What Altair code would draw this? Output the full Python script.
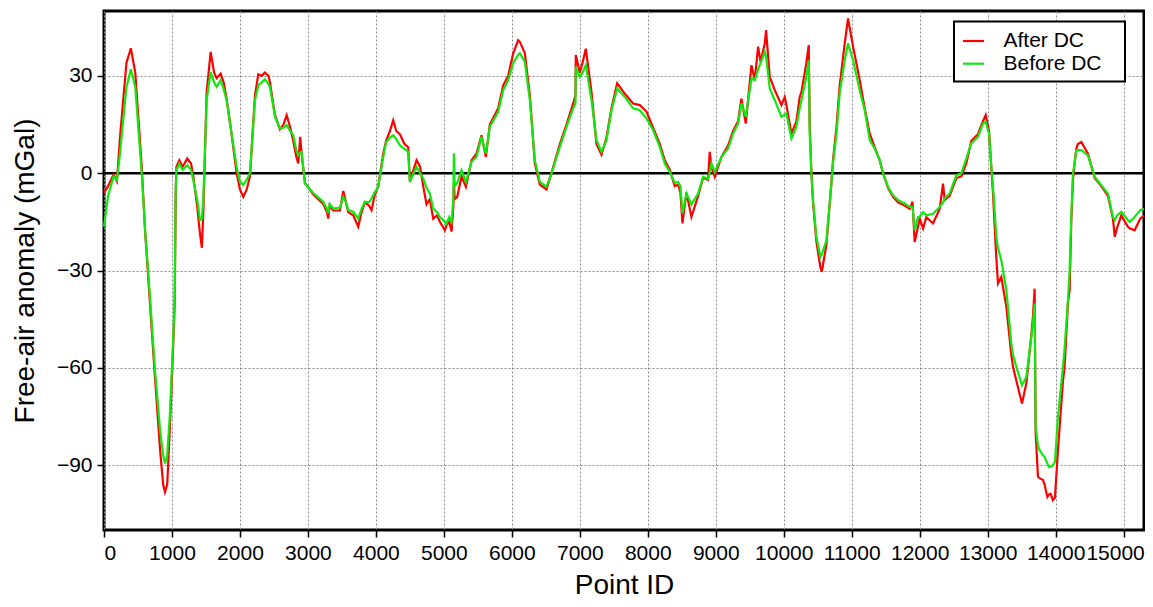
import altair as alt
import pandas as pd

POINT_ID = [0, 60, 140, 190, 235, 330, 395, 460, 555, 605, 676, 750, 824, 870, 897, 930, 970, 1020, 1040, 1055,
            1065, 1108, 1157, 1225, 1280, 1314, 1370, 1412, 1440, 1461, 1510, 1569, 1620, 1657, 1716, 1760, 1804,
            1877, 1951, 2000, 2049, 2100, 2147, 2221, 2270, 2320, 2368, 2420, 2441, 2515, 2588, 2640, 2687, 2740,
            2784, 2830, 2858, 2887, 2907, 2956, 3078, 3225, 3280, 3299, 3320, 3373, 3471, 3520, 3560, 3593, 3667,
            3740, 3790, 3838, 3900, 3936, 3980, 4034, 4108, 4150, 4206, 4255, 4300, 4353, 4420, 4475, 4500, 4598,
            4650, 4696, 4745, 4794, 4843, 4900, 4941, 5015, 5039, 5080, 5113, 5140, 5147, 5160, 5196, 5260, 5324,
            5407, 5480, 5554, 5618, 5676, 5799, 5872, 5946, 6019, 6093, 6118, 6191, 6265, 6338, 6412, 6510, 6583,
            6706, 6804, 6902, 6936, 6941, 7000, 7040, 7088, 7172, 7245, 7319, 7392, 7466, 7549, 7662, 7784, 7882,
            7980, 8078, 8176, 8250, 8324, 8397, 8446, 8480, 8510, 8569, 8642, 8740, 8813, 8887, 8911, 8936, 8985,
            9083, 9181, 9255, 9328, 9377, 9441, 9525, 9574, 9623, 9660, 9721, 9740, 9794, 9868, 9966, 10015, 10039,
            10113, 10186, 10235, 10260, 10333, 10368, 10382, 10407, 10431, 10480, 10539, 10560, 10628, 10701, 10725,
            10775, 10823, 10897, 10946, 11020, 11118, 11191, 11265, 11338, 11412, 11461, 11534, 11608, 11681, 11779,
            11853, 11895, 11926, 11975, 12000, 12050, 12098, 12196, 12294, 12343, 12368, 12441, 12539, 12613, 12686,
            12760, 12857, 12931, 12971, 13020, 13050, 13078, 13127, 13152, 13201, 13275, 13348, 13373, 13422, 13505,
            13569, 13642, 13667, 13691, 13706, 13740, 13765, 13814, 13838, 13878, 13902, 13926, 13960, 13990, 14034,
            14108, 14132, 14181, 14206, 14230, 14255, 14279, 14304, 14328, 14378, 14475, 14574, 14672, 14770, 14843,
            14870, 14902, 14966, 15064, 15088, 15162, 15245, 15300]

BEFORE_DC = [-16.5, -7, -1, -2.2, 6, 26.6, 32, 26.6, 0, -17.6, -38, -60.7, -79, -87, -89.5, -87, -74, -50, -38, -5,
             1, 3, 1, 2.5, 1, -2.2, -8, -14.5, -14, -8.3, 22.5, 31.2, 28, 26.6, 28.7, 26, 22.5,
             12.2, 1.9, -2.5, -3.7, -2, 0, 22.5, 27.1, 28, 28.9, 27.5, 26.6, 17.4, 13.8, 14, 14.8, 13,
             11.7, 7, 5.5, 6.5, 6.6, -3.2, -6.1, -8.8, -11, -12.4, -9.5, -10.9, -10.6, -7.3, -9, -11.4, -11.9,
             -14, -11, -8.8, -9, -7.8, -6, -4.2, 5, 9.5, 11, 11.7, 10.5, 8.6, 7.5, 6.6, -2.7, 2,
             0, -1.6, -4.5, -6.3, -10.9, -12, -13.5, -15, -15.5, -13.5, -15, -8, 6.1, -4, -3, 0.9, -2.7,
             3.5, 5, 11.2, 6.1, 14.3, 18.9, 25.6, 28.7, 33.8, 36.5, 37, 34.3, 22.5, 4, -2.7, -4.2, -0.1,
             8.1, 14.3, 20, 21.5, 32.8, 29.7, 31, 33.3, 22.5, 10.2, 6.6, 10.2, 19.4, 26.1, 23.5, 20, 19.4,
             16.9, 13.3, 8.1, 3, 0.4, -3, -2.7, -4, -12.4, -6.3, -9.6, -6.3, -1.1, -1.7, 0, 3, 0.4,
             5, 7.6, 12.2, 15.3, 21.5, 17.4, 29.2, 28.7, 32, 34, 37.4, 36, 26.1, 22.5, 17.4, 18, 18.4,
             10.7, 14.3, 20, 22.5, 29.7, 34.8, 12.3, 0, -8.3, -19.6, -25.8, -25, -20.7, -3.2, 3,
             12, 24.6, 34.8, 40, 34.8, 25.6, 19.4, 10.2, 7.6, 4, 0, -4.2, -6.8, -8.3, -9.3,
             -10.4, -10.4, -17.6, -13.5, -13.5, -12, -13, -12.5, -10.4, -9, -7.8, -6.3, -0.6, 0, 4.5,
             9.2, 11.2, 15.3, 15.8, 12.2, 3, -4, -19.5, -23, -26.8, -36, -52.5, -56, -59.7, -65.4,
             -62.8, -50.5, -46, -40.2, -78.2, -84, -85.4, -87, -87.5, -89.5, -90.6, -90.5, -90, -89, -75.1,
             -59.7, -54, -39.2, -30, -13.5, 0, 3, 7.1, 7.1, 7.1, 5.5, -1.1, -3.7, -6.3, -13.5,
             -14.5, -13, -11.9, -14.5, -15, -13.5, -11.4, -11]

AFTER_DC = [-6, -4, -0.5, -2.5, 11, 34, 38.5, 31, 2, -18, -40, -63, -85, -96, -98.3, -96, -78, -52, -40, -6,
            2, 4, 2, 4.5, 3, -1, -10, -18.6, -23, -12, 25, 37.4, 31, 29.3, 30.7, 28, 23,
            12, 0, -5, -7.3, -5, -1, 24, 30.5, 30, 31, 30, 28, 18, 13.5, 15, 17.9, 14,
            10, 5, 3, 11.2, 6, -3, -6.5, -9.5, -12, -14, -10, -11.5, -11.5, -5.5, -9, -12, -13,
            -16.5, -12, -9, -10, -11.4, -7, -4, 6, 10, 13, 16.3, 13, 12, 9, 8, -2.5, 4,
            2, -4, -9.6, -8, -14, -13, -15, -17.6, -16, -15, -18, -10, -3, -8, -7.3, -1, -4.2,
            4, 6, 11.7, 5, 15, 20, 27, 30, 36.9, 41, 40.5, 37, 24, 3, -3.5, -5, 0,
            9, 15, 21.5, 24, 36.4, 31, 34, 38.4, 25, 9, 5.7, 11, 20, 27.7, 24.5, 21.5, 21,
            19, 14, 9, 4, 1, -4, -3.5, -6, -15.5, -6, -13.5, -7, -1.5, -2, 6.6, 2, -1.1,
            5, 8.5, 13, 16, 23, 15.3, 33.3, 28.7, 39, 34.3, 40, 44.1, 29.7, 25.6, 21, 23.5, 21,
            12.2, 16, 23.5, 25, 34, 39.5, 15, 0, -9, -21, -29, -30.4, -22, -3, 4,
            14, 27, 40, 47.7, 39, 28.7, 20, 12.2, 8, 4, 0, -4.5, -7.3, -9, -10,
            -11, -8.8, -21.2, -16.5, -14, -17, -13.5, -15.5, -11, -3.2, -8.3, -7, -1.5, -1, 3,
            10, 12, 16, 17.9, 13, 3, -6, -26, -34, -32, -41.2, -56, -59.7, -64, -71,
            -64.8, -50, -44, -35.6, -80, -93.6, -94, -94.6, -96, -99.8, -99, -98.8, -100.8, -100, -85.4,
            -64, -59.7, -40, -36, -15, -2, 3, 7.5, 9, 9.6, 6, -1.5, -4, -7, -14,
            -19.6, -17, -13, -16.5, -17, -17.6, -14, -13]

SERIES = ["After DC", "Before DC"]
COLORS = ["#ff0000", "#10e810"]
X_TICKS = list(range(0, 15001, 1000))
Y_TICKS = [-90, -60, -30, 0, 30]
ZERO = [0]

FONT = "Liberation Sans"

df_after = pd.DataFrame({"pid": POINT_ID, "fa": AFTER_DC, "series": SERIES[0]})
df_before = pd.DataFrame({"pid": POINT_ID, "fa": BEFORE_DC, "series": SERIES[1]})

x_enc = alt.X(
    "pid:Q",
    scale=alt.Scale(domain=[0, 15300], nice=False, zero=False),
    axis=alt.Axis(values=X_TICKS, title="Point ID", format="d",
                  labelOffset=alt.ConditionalAxisNumber(
                      condition={"test": "datum.value == 15000", "value": -8.5}, value=0),
                  titleX=520, titleY=63, titleAlign="center", titleBaseline="alphabetic"),
)
y_enc = alt.Y(
    "fa:Q",
    scale=alt.Scale(domain=[-110, 50], nice=False, zero=False),
    axis=alt.Axis(values=Y_TICKS, title="Free-air anomaly (mGal)",
                  titleX=-71, titleY=259.5, titleAlign="center", titleBaseline="alphabetic"),
)
color_enc = alt.Color(
    "series:N",
    scale=alt.Scale(domain=SERIES, range=COLORS),
    legend=alt.Legend(
        title=None, orient="none", legendX=850, legendY=10.5,
        strokeColor="black", fillColor="white", padding=7.5,
        symbolType="stroke", symbolSize=441, symbolStrokeWidth=2.2,
        labelFont=FONT, labelFontSize=21, labelColor="black", labelOffset=18,
        rowPadding=0.7, labelExpr="datum.label + '\u2800'",
    ),
)

zero_line = alt.Chart(pd.DataFrame({"fa": ZERO})).mark_rule(color="black", strokeWidth=2.5).encode(y="fa:Q")
after = alt.Chart(df_after).mark_line(strokeWidth=2.2).encode(x=x_enc, y=y_enc, color=color_enc)
before = alt.Chart(df_before).mark_line(strokeWidth=2.2).encode(x=x_enc, y=y_enc, color=color_enc)

chart = (
    alt.layer(zero_line, after, before)
    .properties(width=1040, height=519,
                autosize=alt.AutoSizeParams(type="none"),
                padding={"left": 96, "top": 3, "right": 1, "bottom": 70})
    .configure_view(stroke="black", strokeWidth=3)
    .configure_axis(domain=False, grid=True, gridColor="#8a8a8a", gridDash=[2, 2], gridWidth=1,
                    tickColor="black", tickSize=7, tickWidth=1.5,
                    labelFont=FONT, labelFontSize=21, labelColor="black", labelPadding=5,
                    titleFont=FONT, titleFontSize=28, titleFontWeight="normal", titleColor="black")
    .configure_legend(strokeWidth=2)
)

chart.save("out.html", embed_options={"renderer": "svg", "actions": False})
